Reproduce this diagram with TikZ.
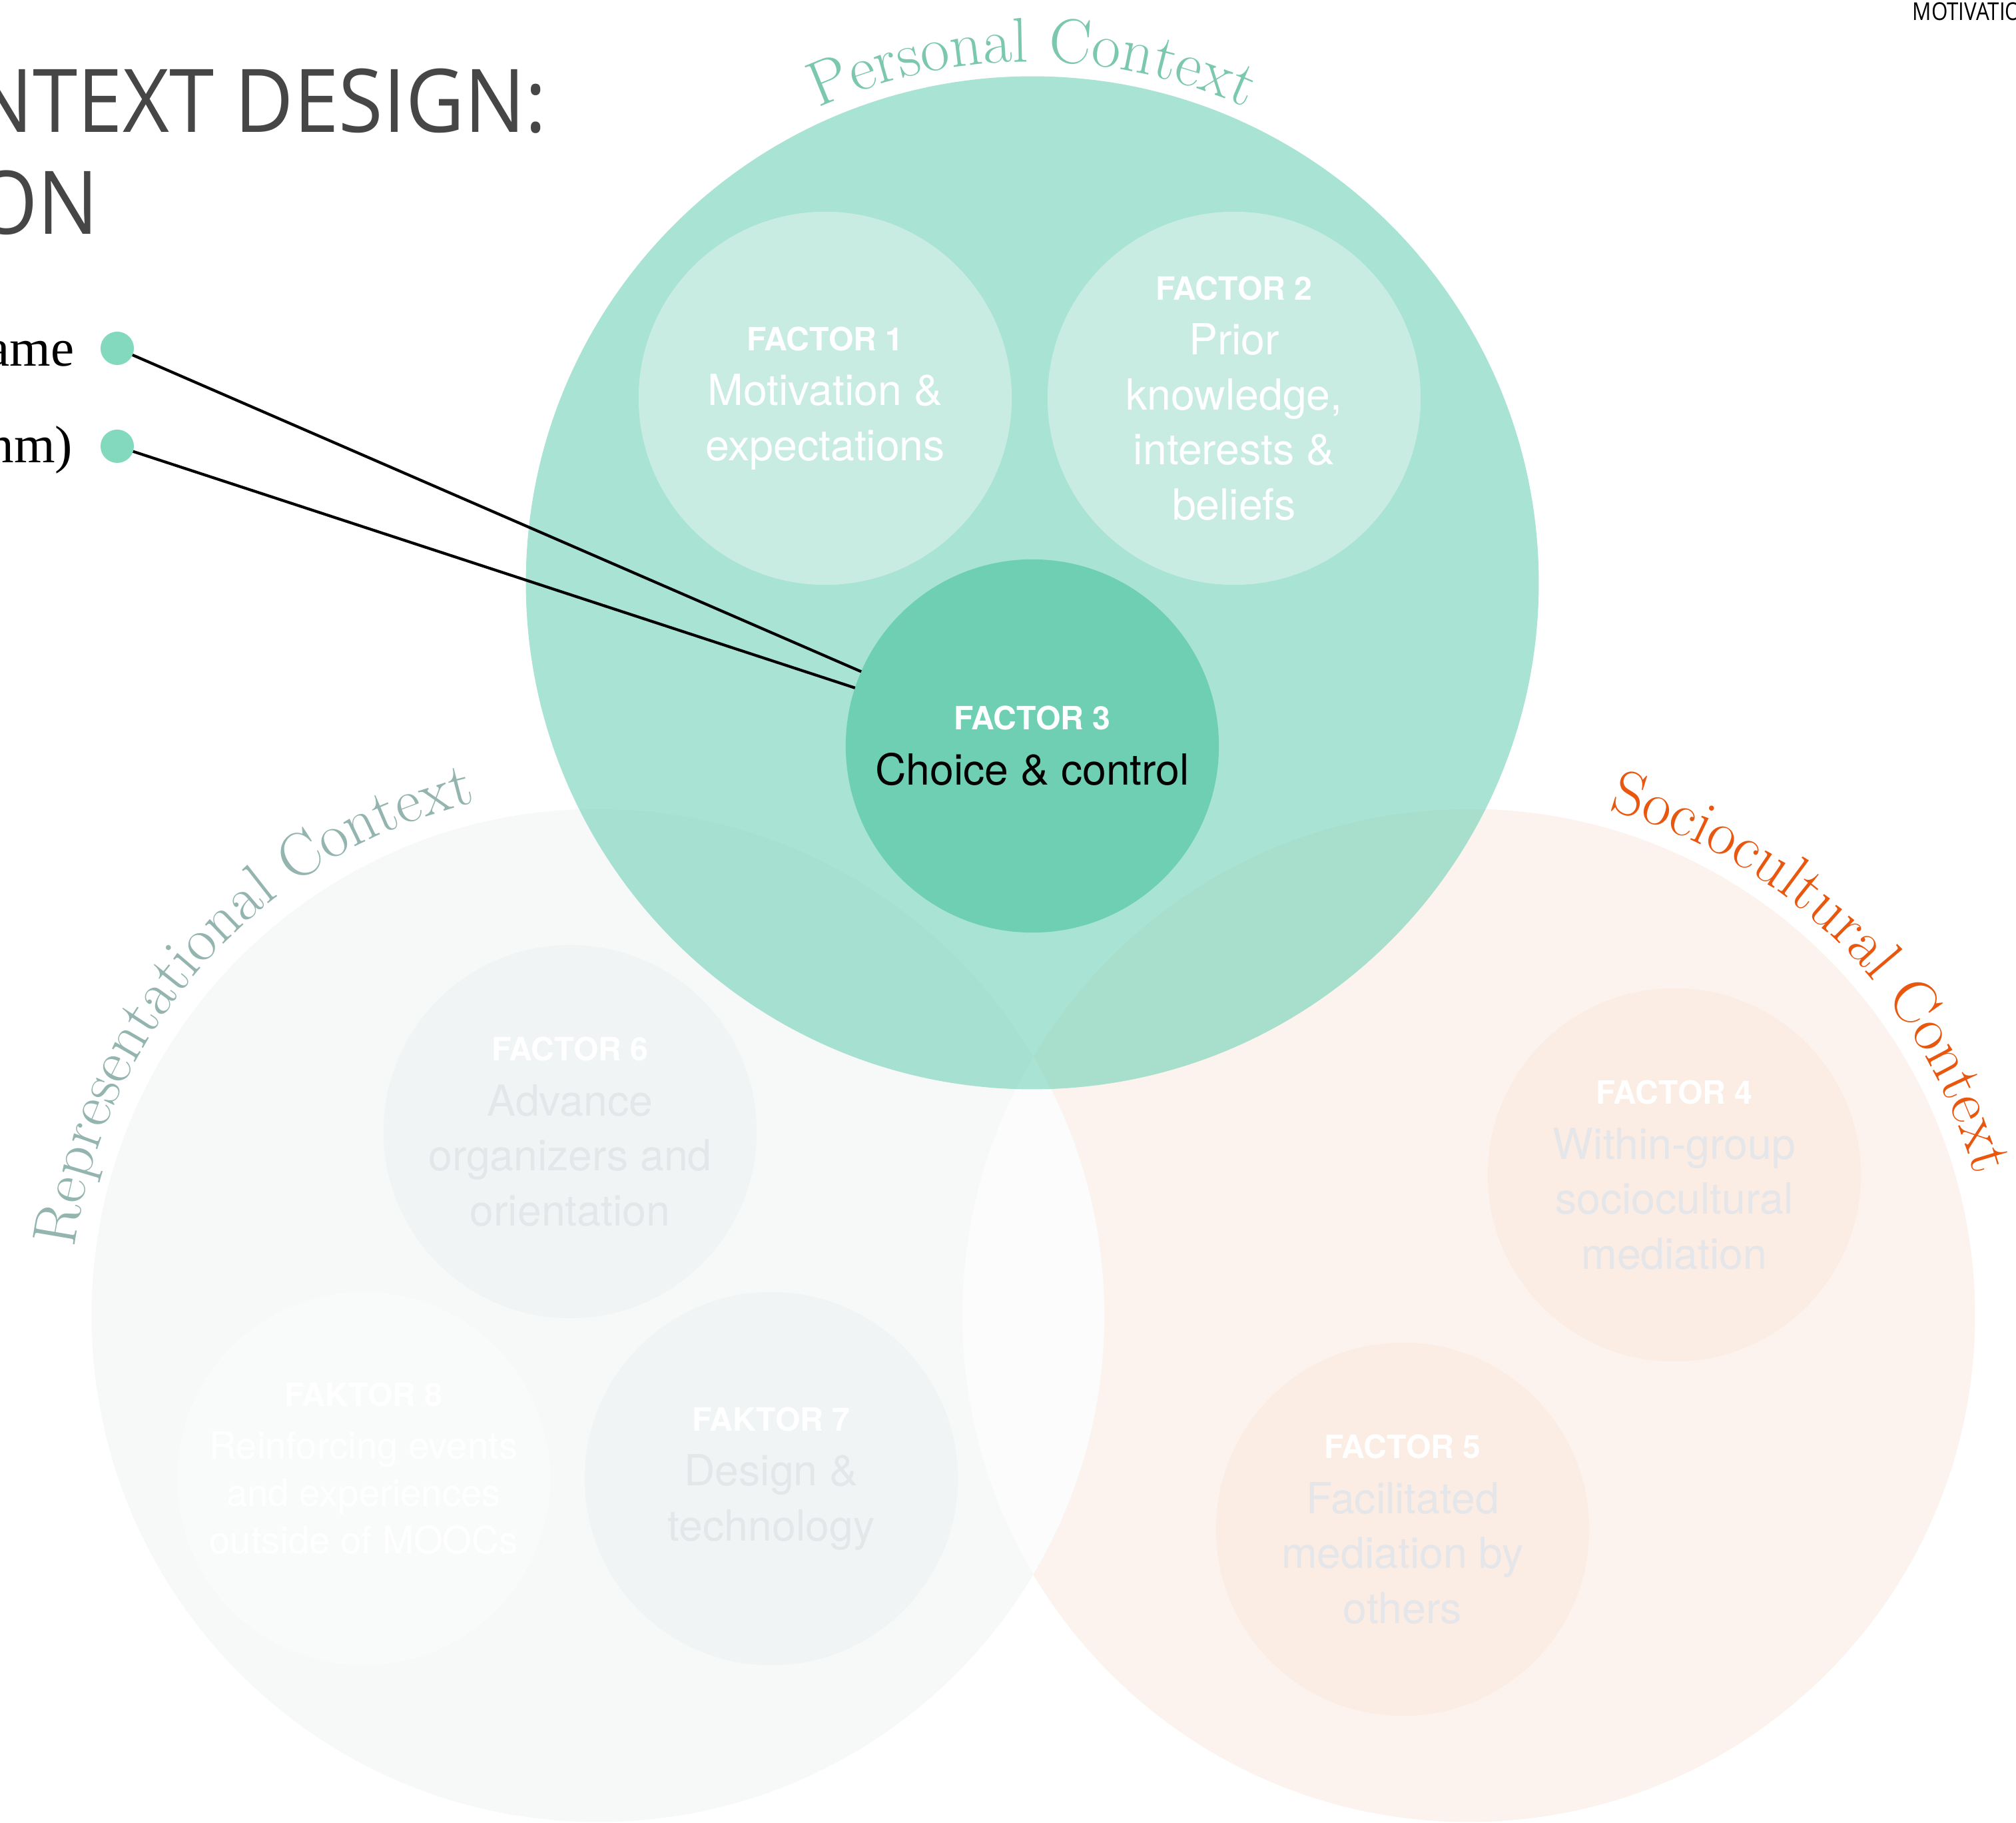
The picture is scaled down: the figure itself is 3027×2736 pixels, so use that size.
\documentclass[tikz,border=0pt]{standalone}
\usepackage{fontspec}
\newfontfamily\heros{TeX Gyre Heros}
\newfontfamily\titlefont[FakeStretch=0.92]{Open Sans}
\newfontfamily\runfont[FakeStretch=0.85]{Open Sans}
\newfontfamily\tnr{Liberation Serif}
\usetikzlibrary{decorations.text}

% palette
\definecolor{persC}{HTML}{A8E3D3}
\definecolor{persPR}{HTML}{A6E0D0}
\definecolor{persPS}{HTML}{A8DECC}
\definecolor{persIn}{HTML}{C9ECE2}
\definecolor{persHi}{HTML}{6FCFB3}
\definecolor{persLab}{HTML}{7CC8AF}
\definecolor{dotC}{HTML}{82D9BD}
\definecolor{repC}{HTML}{F7F8F8}
\definecolor{repIn}{HTML}{F1F4F5}
\definecolor{repLight}{HTML}{F9FAFA}
\definecolor{repLab}{HTML}{93B4AF}
\definecolor{socC}{HTML}{FCF3EE}
\definecolor{socIn}{HTML}{FBECE4}
\definecolor{socLab}{HTML}{E9570F}
\definecolor{lensC}{HTML}{FCFCFC}
\definecolor{fadeTxt}{HTML}{E4E6E9}
\definecolor{titleC}{HTML}{464646}

\newcommand\flab[1]{{\fontsize{13.7}{23.5}\selectfont\bfseries #1}}

\tikzset{
  bigcirc/.style={circle, minimum size=15.2cm, inner sep=0pt, outer sep=0pt},
  factor/.style={circle, minimum size=5.6cm, inner sep=0pt, outer sep=0pt,
    align=center, font=\heros\fontsize{18.3}{23.5}\selectfont},
  dotnode/.style={circle, fill=dotC, minimum size=0.5cm, inner sep=0pt, outer sep=0pt},
  conn/.style={draw=black, line width=1.2pt},
  sidetext/.style={font=\tnr\fontsize{22.5}{27}\selectfont, text=black, inner sep=0pt},
  arclabel/.style={decorate, decoration={text along path, text align=center, text={#1}}}
}

\begin{document}
\begin{tikzpicture}[x=0.01cm, y=0.01cm]
\fill[white] (0,0) rectangle (3027,2736);
\useasboundingbox (0,0) rectangle (3027,2736);

% lower context circles
\node[bigcirc, fill=socC] (S) at (2205,761) {};
\node[bigcirc, fill=repC] (R) at (898,761) {};
\begin{scope}
  \clip (R.center) circle[radius=760];
  \fill[lensC] (S.center) circle[radius=760];
\end{scope}

% factors of the representational context
\node[factor, fill=repIn] (f6) at (856,1037)
  {\textcolor{white}{\flab{FACTOR 6}}\\ \textcolor{fadeTxt}{Advance}\\ \textcolor{fadeTxt}{organizers and}\\ \textcolor{fadeTxt}{orientation}};
\node[factor, fill=repIn] (f7) at (1158,516)
  {\textcolor{white}{\flab{FAKTOR 7}}\\ \textcolor{fadeTxt}{Design \&}\\ \textcolor{fadeTxt}{technology}};
\node[factor, fill=repLight] (f8) at (546,516) {};
\node[align=center, inner sep=0pt, text=white, font=\heros\fontsize{16}{20.3}\selectfont] (f8t) at ([yshift=0.15cm]f8.center)
  {\flab{FAKTOR 8}\\[2pt] Reinforcing events\\ and experiences\\ outside of MOOCs};

% factors of the sociocultural context
\node[factor, fill=socIn] (f4) at (2514,972)
  {\textcolor{white}{\flab{FACTOR 4}}\\ \textcolor{fadeTxt}{Within-group}\\ \textcolor{fadeTxt}{sociocultural}\\ \textcolor{fadeTxt}{mediation}};
\node[factor, fill=socIn] (f5) at (2106,440)
  {\textcolor{white}{\flab{FACTOR 5}}\\ \textcolor{fadeTxt}{Facilitated}\\ \textcolor{fadeTxt}{mediation by}\\ \textcolor{fadeTxt}{others}};

% personal context circle and its overlaps
\node[bigcirc, fill=persC] (P) at (1550,1861) {};
\begin{scope}
  \clip (P.center) circle[radius=760];
  \fill[persPR] (R.center) circle[radius=760];
  \fill[persPS] (S.center) circle[radius=760];
  \clip (R.center) circle[radius=760];
  \fill[persC] (S.center) circle[radius=760];
\end{scope}

\node[factor, fill=persIn, text=white] (f1) at (1239,2138)
  {\flab{FACTOR 1}\\ Motivation \&\\ expectations};
\node[factor, fill=persIn, text=white] (f2) at (1853,2138)
  {\flab{FACTOR 2}\\ Prior\\ knowledge,\\ interests \&\\ beliefs};
\node[factor, fill=persHi] (f3) at (1550,1616)
  {\textcolor{white}{\flab{FACTOR 3}}\\ Choice \& control};

% curved context labels
\path[arclabel={|\fontsize{27}{27}\selectfont\color{persLab}|Personal Context}]
  (P.center) ++(170:782) arc[start angle=170, end angle=10, radius=782];
\path[arclabel={|\fontsize{26.5}{26.5}\selectfont\color{repLab}|Representational Context}]
  (R.center) ++(205:792) arc[start angle=205, end angle=71, radius=792];
\path[arclabel={|\fontsize{26.5}{26.5}\selectfont\color{socLab}|Sociocultural Context}]
  (S.center) ++(112:788) arc[start angle=112, end angle=-22, radius=788];

% headings
\node[anchor=base east, inner sep=0pt, text=titleC, font=\titlefont\fontsize{37.5}{43}\selectfont] (t1) at (822,2537) {NTEXT DESIGN:};
\node[anchor=base east, inner sep=0pt, text=titleC, font=\titlefont\fontsize{37.5}{43}\selectfont] (t2) at (149,2384) {ON};
\node[anchor=base west, inner sep=0pt, text=black, font=\runfont\fontsize{10.5}{12}\selectfont] (run) at (2871,2705) {MOTIVATIO};

% side annotations with connectors to factor 3
\node[dotnode] (d1) at (176,2213) {};
\node[dotnode] (d2) at (176,2066) {};
\node[sidetext, anchor=base east] (s1) at (112,2186) {ame};
\node[sidetext, anchor=base east] (s2) at (110,2041) {nm)};
\draw[conn] (d1) -- (f3);
\draw[conn] (d2) -- (f3);
\end{tikzpicture}
\end{document}
